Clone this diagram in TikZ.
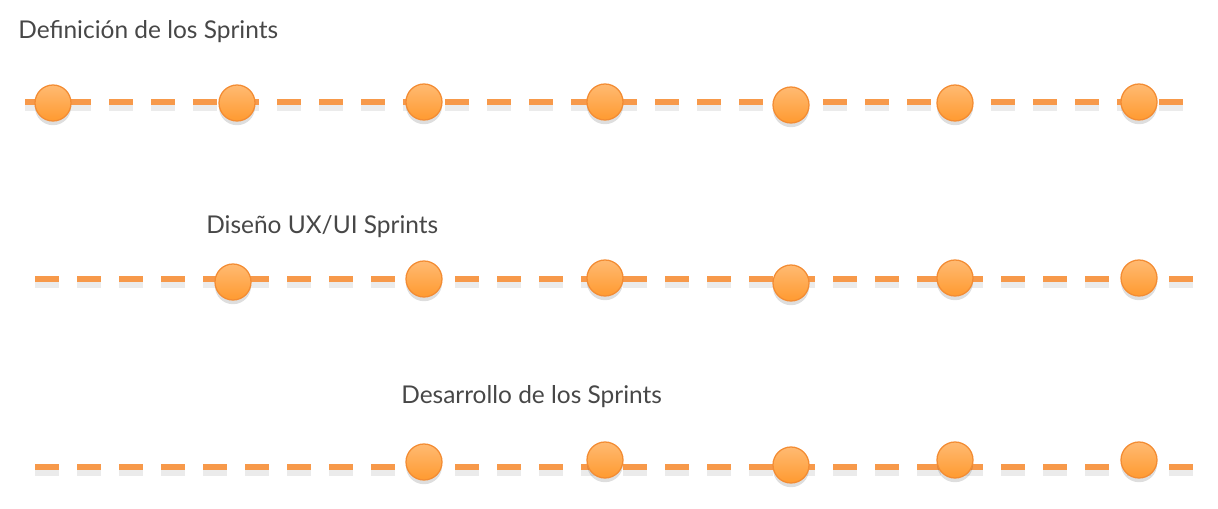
\documentclass[tikz,border=0pt]{standalone}
\usepackage{fontspec}
\setmainfont{Lato}
\usetikzlibrary{shadows}
\definecolor{sprintline}{HTML}{F7994A}
\definecolor{sprinttop}{HTML}{FFBA72}
\definecolor{sprintbot}{HTML}{FF9A30}
\definecolor{sprintrim}{HTML}{F38C33}
\definecolor{titletext}{HTML}{474747}
\tikzset{
  timeline/.style={sprintline,line width=4.3pt,dash pattern=on 17.07pt off 12.8pt,
    preaction={draw=black,opacity=0.08,line width=5pt,dash pattern=on 17.07pt off 12.8pt,
      transform canvas={yshift=-4pt}}},
  sprint/.style={circle,minimum size=0.9cm,inner sep=0pt,draw=sprintrim,line width=0.9pt,
    top color=sprinttop,bottom color=sprintbot,
    drop shadow={shadow xshift=0pt,shadow yshift=-3pt,opacity=0.13,fill=black}},
  phase/.style={anchor=base west,inner sep=0pt,text=titletext,font=\fontsize{17.4}{20}\selectfont}
}

\begin{document}
\begin{tikzpicture}[x=0.025cm,y=-0.025cm]
            \useasboundingbox (0,0) rectangle (1218,508);
            % Definicion
            \node[phase] (def) at (18,38) {Definición de los Sprints};
            \coordinate (defL) at (25,102);
            \coordinate (defR) at (1185,102);
            \draw[timeline] (defL) -- (defR);
            \foreach \x/\y [count=\i] in {53/103,237/103,424/102,605/102,791/105,955/103,1139/102}{
                \node[sprint] (def\i) at (\x,\y) {};
            }
            % UX/UI
            \node[phase] (ux) at (206,233) {Diseño UX/UI Sprints};
            \coordinate (uxL) at (35,279);
            \coordinate (uxR) at (1193,279);
            \draw[timeline] (uxL) -- (uxR);
            \foreach \x/\y [count=\i] in {233/282,424/279,605/278,791/283,955/278,1139/278}{
                \node[sprint] (ux\i) at (\x,\y) {};
            }
            % Desarrollo
            \node[phase] (dev) at (401,403) {Desarrollo de los Sprints};
            \coordinate (devL) at (35,467);
            \coordinate (devR) at (1193,467);
            \draw[timeline] (devL) -- (devR);
            \foreach \x/\y [count=\i] in {424/462,605/460,791/465,955/460,1139/460}{
                \node[sprint] (dev\i) at (\x,\y) {};
            }
        \end{tikzpicture}
\end{document}
